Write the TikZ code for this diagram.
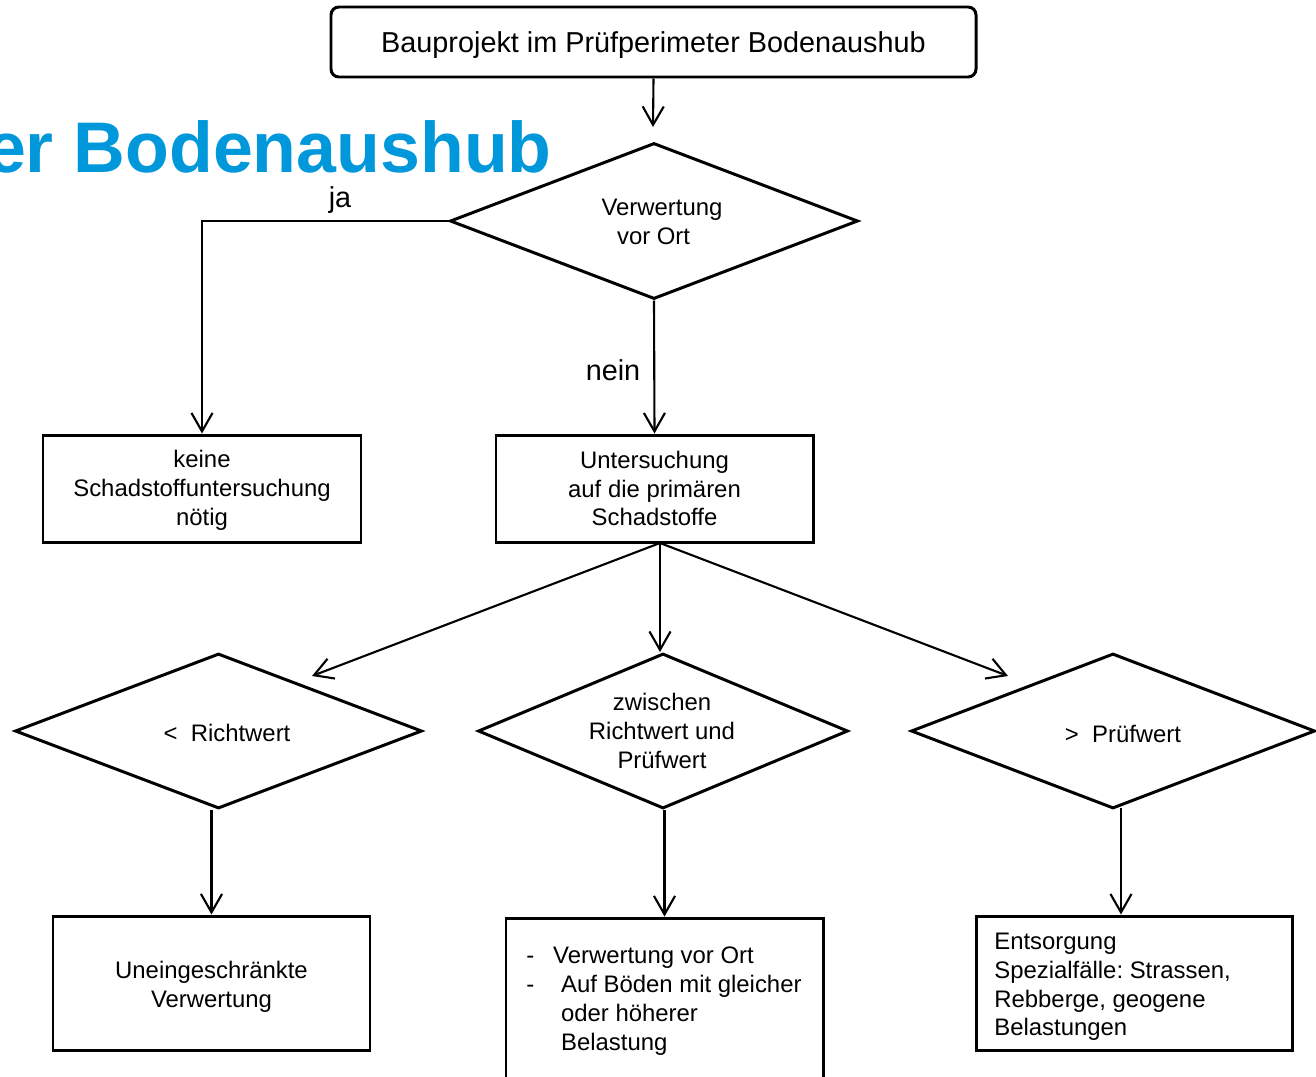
\documentclass[tikz,border=0pt]{standalone}
\usepackage{fontspec}
\setmainfont{Liberation Sans}
\usetikzlibrary{arrows.meta,shapes.geometric}
\newdimen\pxu \pxu=0.02cm
\definecolor{titleblue}{RGB}{0,152,219}
\newcommand\dgbody{\fontsize{13.6pt}{16.4pt}\selectfont\frenchspacing}
\newcommand\dgtop{\fontsize{16.4pt}{19pt}\selectfont}
\begin{document}
\begin{tikzpicture}[x=0.02cm,y=-0.02cm,
  box/.style={draw, line width=1.7pt, inner sep=0pt, align=center, font=\dgbody},
  dia/.style={draw, diamond, line width=1.7pt, inner sep=0pt},
  txt/.style={inner sep=0pt, align=center, font=\dgbody},
  lbl/.style={inner sep=0pt, font=\dgtop},
  conn/.style={draw, line width=1.2pt, -{Straight Barb[length=10.5pt,width=12pt]}}
]
\clip (0,0) rectangle (1316,1076);

% background title
\node[anchor=base east, inner sep=0pt, text=titleblue,
  font=\fontsize{40.8pt}{48pt}\selectfont\bfseries] (title) at (552,172) {er Bodenaushub};

% top box
\node[box, rounded corners=4.5pt, minimum width=645\pxu, minimum height=70\pxu]
  (top) at (653.5,42) {};
\node[lbl] (topt) at (653.5,45) {Bauprojekt im Prüfperimeter Bodenaushub};

% first decision
\node[dia, minimum width=408\pxu, minimum height=156\pxu] (d1) at (654,221) {};
\node[txt] (d1t) at (662,222) {Verwertung\\\hspace*{-9.6pt}vor Ort};

% second row boxes
\node[box, minimum width=318\pxu, minimum height=107\pxu] (keine) at (202,488.5) {};
\node[txt] (keinet) at (202,490.5) {keine\\Schadstoffuntersuchung\\nötig};
\node[box, minimum width=317\pxu, minimum height=107\pxu] (unt) at (654.5,488.5)
  {Untersuchung\\auf die primären\\Schadstoffe};

% labels
\node[lbl] (lja) at (340,200) {ja};
\node[lbl] (lnein) at (613,370) {nein};

% third row decisions
\node[dia, minimum width=407\pxu, minimum height=155\pxu] (dl) at (218.5,731) {};
\node[txt] (dlt) at (227,733) {<\ \ Richtwert};
\node[dia, minimum width=370\pxu, minimum height=155\pxu] (dm) at (663,731) {};
\node[txt] (dmt) at (662,731) {zwischen\\Richtwert und\\Prüfwert};
\node[dia, minimum width=404\pxu, minimum height=155\pxu] (dr) at (1113,731) {};
\node[txt] (drt) at (1123,734) {>\ \ Prüfwert};

% bottom boxes
\node[box, minimum width=317\pxu, minimum height=134\pxu] (ue) at (211.5,983) {};
\node[txt] (uet) at (211.5,987) {Uneingeschränkte\\Verwertung};
\node[box, minimum width=317\pxu, minimum height=164\pxu] (mb) at (664.5,1000) {};
\node[txt, anchor=west, align=left] (mbt) at (526,1001)
  {\makebox[15.3pt][l]{-}Verwertung vor Ort\\
   \makebox[19.8pt][l]{-}Auf Böden mit gleicher\\
   \makebox[19.8pt][l]{}oder höherer\\
   \makebox[19.8pt][l]{}Belastung};
\node[box, minimum width=316\pxu, minimum height=134\pxu] (rb) at (1134,983) {};
\node[txt, anchor=west, align=left] (rbt) at (994,987)
  {Entsorgung\\Spezialfälle: Strassen,\\Rebberge, geogene\\Belastungen};

% connectors
\coordinate (a1) at (653,127);
\draw[conn] (top.south) -- (a1);
\draw[conn] (d1.west) -| (keine.north);
\draw[conn] (d1.south) -- (unt.north);
\coordinate (src) at (660,543);
\coordinate (lt) at (312,676);
\coordinate (rt) at (1008,676);
\draw[conn] (src) -- (lt);
\draw[conn] (src) -- (src |- dm.north);
\draw[conn] (src) -- (rt);
\draw[conn] (ue.north |- dl.south) -- (ue.north);
\draw[conn] (mb.north |- dm.south) -- (mb.north);
\coordinate (r1) at (1121,808);
\draw[conn] (r1) -- (r1 |- rb.north);
\end{tikzpicture}
\end{document}
